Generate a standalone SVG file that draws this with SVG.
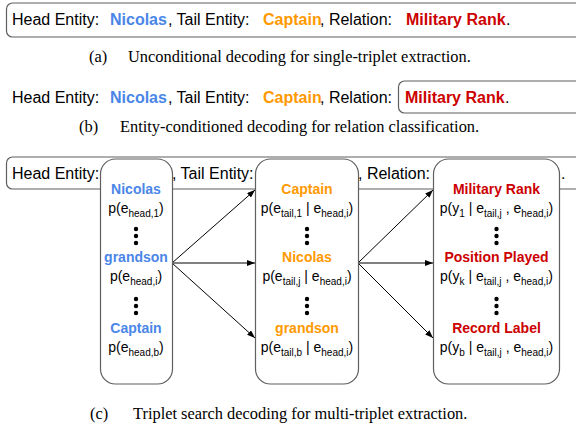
<svg xmlns="http://www.w3.org/2000/svg" width="576" height="432" viewBox="0 0 576 432">
<defs>
<style>
.t{font-family:"Liberation Sans",Arial,sans-serif;font-size:16px;fill:#000}
.b{font-weight:bold}
.blue{fill:#4a86e8}
.org{fill:#ff9900}
.red{fill:#cc0000}
.cap{font-family:"Liberation Serif","Times New Roman",serif;font-size:16.4px;fill:#000}
.box{fill:#fff;stroke:#5f5f5f;stroke-width:1.2}
.col{fill:#fff;stroke:#5f5f5f;stroke-width:1.2}
.n{font-family:"Liberation Sans",Arial,sans-serif;font-size:14px;font-weight:bold;text-anchor:middle}
.p{font-family:"Liberation Sans",Arial,sans-serif;font-size:14px;text-anchor:middle;fill:#000}
.s{font-size:10px}
.arr{stroke:#000;stroke-width:1;fill:none;marker-end:url(#ah)}
</style>
<marker id="ah" markerWidth="8" markerHeight="6" refX="8" refY="3" orient="auto" markerUnits="userSpaceOnUse">
<path d="M0,0 L8,3 L0,6 z" fill="#000"/>
</marker>
</defs>
<rect width="576" height="432" fill="#fff"/>

<g id="panel-a">
<rect class="box" x="6.5" y="3" width="590" height="34" rx="6"/>
<text class="t" x="12" y="25">Head Entity:</text>
<text class="t b blue" x="110" y="25">Nicolas</text>
<text class="t" x="168" y="25">, Tail Entity:</text>
<text class="t b org" x="263" y="25">Captain</text>
<text class="t" x="320" y="25">, Relation:</text>
<text class="t b red" x="406" y="25">Military Rank</text>
<text class="t" x="506" y="25">.</text>
<text class="cap" x="89" y="62">(a)</text>
<text class="cap" x="128" y="62">Unconditional decoding for single-triplet extraction.</text>
</g>

<g id="panel-b">
<rect class="box" x="398.5" y="81" width="190" height="32" rx="6"/>
<text class="t" x="12" y="103">Head Entity:</text>
<text class="t b blue" x="110" y="103">Nicolas</text>
<text class="t" x="168" y="103">, Tail Entity:</text>
<text class="t b org" x="263" y="103">Captain</text>
<text class="t" x="320" y="103">, Relation:</text>
<text class="t b red" x="405" y="103">Military Rank</text>
<text class="t" x="505" y="103">.</text>
<text class="cap" x="79" y="132">(b)</text>
<text class="cap" x="120" y="132">Entity-conditioned decoding for relation classification.</text>
</g>

<g id="panel-c-bar">
<rect class="box" x="6.5" y="157" width="590" height="32" rx="6"/>
<text class="t" x="12" y="179">Head Entity:</text>
<text class="t" x="172" y="179">, Tail Entity:</text>
<text class="t" x="358" y="179">, Relation:</text>
<text class="t" x="561" y="179">.</text>
</g>

<g id="connectors">
<line class="arr" x1="172" y1="263" x2="255" y2="190"/>
<line class="arr" x1="172" y1="263" x2="255" y2="263"/>
<line class="arr" x1="172" y1="263" x2="255" y2="338"/>
<line class="arr" x1="358" y1="263" x2="433" y2="190"/>
<line class="arr" x1="358" y1="263" x2="433" y2="263"/>
<line class="arr" x1="358" y1="263" x2="433" y2="338"/>
</g>

<g id="col-head">
<rect class="col" x="100.5" y="159" width="72" height="225" rx="15"/>
<text class="n blue" x="136" y="194">Nicolas</text>
<text class="p" x="136" y="213">p(e<tspan class="s" dy="4">head,1</tspan><tspan dy="-4">)</tspan></text>
<circle cx="136" cy="229" r="2.2"/><circle cx="136" cy="236" r="2.2"/><circle cx="136" cy="243" r="2.2"/>
<text class="n blue" x="136" y="262">grandson</text>
<text class="p" x="136" y="281">p(e<tspan class="s" dy="4">head,i</tspan><tspan dy="-4">)</tspan></text>
<circle cx="136" cy="299" r="2.2"/><circle cx="136" cy="306" r="2.2"/><circle cx="136" cy="313" r="2.2"/>
<text class="n blue" x="136" y="333">Captain</text>
<text class="p" x="136" y="352">p(e<tspan class="s" dy="4">head,b</tspan><tspan dy="-4">)</tspan></text>
</g>

<g id="col-tail">
<rect class="col" x="255.5" y="159" width="103" height="225" rx="15"/>
<text class="n org" x="307" y="194">Captain</text>
<text class="p" x="307" y="213">p(e<tspan class="s" dy="4">tail,1</tspan><tspan dy="-4"> | e</tspan><tspan class="s" dy="4">head,i</tspan><tspan dy="-4">)</tspan></text>
<circle cx="307" cy="229" r="2.2"/><circle cx="307" cy="236" r="2.2"/><circle cx="307" cy="243" r="2.2"/>
<text class="n org" x="307" y="262">Nicolas</text>
<text class="p" x="307" y="281">p(e<tspan class="s" dy="4">tail,j</tspan><tspan dy="-4"> | e</tspan><tspan class="s" dy="4">head,i</tspan><tspan dy="-4">)</tspan></text>
<circle cx="307" cy="299" r="2.2"/><circle cx="307" cy="306" r="2.2"/><circle cx="307" cy="313" r="2.2"/>
<text class="n org" x="307" y="333">grandson</text>
<text class="p" x="307" y="352">p(e<tspan class="s" dy="4">tail,b</tspan><tspan dy="-4"> | e</tspan><tspan class="s" dy="4">head,i</tspan><tspan dy="-4">)</tspan></text>
</g>

<g id="col-relation">
<rect class="col" x="433.5" y="159" width="126" height="225" rx="15"/>
<text class="n red" x="496.5" y="194">Military Rank</text>
<text class="p" x="496.5" y="213">p(y<tspan class="s" dy="4">1</tspan><tspan dy="-4"> | e</tspan><tspan class="s" dy="4">tail,j</tspan><tspan dy="-4"> , e</tspan><tspan class="s" dy="4">head,i</tspan><tspan dy="-4">)</tspan></text>
<circle cx="496.5" cy="229" r="2.2"/><circle cx="496.5" cy="236" r="2.2"/><circle cx="496.5" cy="243" r="2.2"/>
<text class="n red" x="496.5" y="262">Position Played</text>
<text class="p" x="496.5" y="281">p(y<tspan class="s" dy="4">k</tspan><tspan dy="-4"> | e</tspan><tspan class="s" dy="4">tail,j</tspan><tspan dy="-4"> , e</tspan><tspan class="s" dy="4">head,i</tspan><tspan dy="-4">)</tspan></text>
<circle cx="496.5" cy="299" r="2.2"/><circle cx="496.5" cy="306" r="2.2"/><circle cx="496.5" cy="313" r="2.2"/>
<text class="n red" x="496.5" y="333">Record Label</text>
<text class="p" x="496.5" y="352">p(y<tspan class="s" dy="4">b</tspan><tspan dy="-4"> | e</tspan><tspan class="s" dy="4">tail,j</tspan><tspan dy="-4"> , e</tspan><tspan class="s" dy="4">head,i</tspan><tspan dy="-4">)</tspan></text>
</g>

<g id="caption-c">
<text class="cap" x="90" y="419">(c)</text>
<text class="cap" x="133" y="419">Triplet search decoding for multi-triplet extraction.</text>
</g>
</svg>
